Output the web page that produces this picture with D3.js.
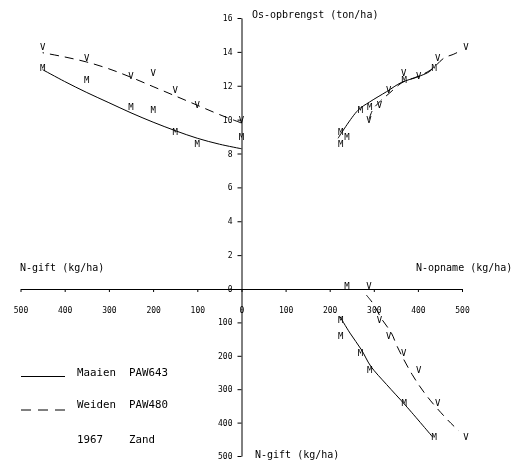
<!DOCTYPE html>
<html>
<head>
<meta charset="utf-8">
<script src="https://cdnjs.cloudflare.com/ajax/libs/d3/7.8.5/d3.min.js"></script>
<style>
  body { margin: 0; background: #fff; }
  svg { will-change: transform; }
  text { font-family: "DejaVu Sans Mono", monospace; fill: #000; }
</style>
</head>
<body>
<div id="chart"></div>
<script>
// N-gift levels (kg/ha)
var giftLevels = [0, 100, 150, 200, 250, 350, 450];

// yield (ton/ha) and N uptake (kg/ha) per N-gift level
var maaienYield = [8.8, 8.4, 9.1, 10.4, 10.6, 12.2, 12.9];
var weidenYield = [9.8, 10.7, 11.6, 12.6, 12.4, 13.5, 14.1];
var maaienUptake = [239, 225, 225, 270, 291, 369, 437];
var weidenUptake = [289, 313, 334, 368, 402, 445, 509];

// fitted curves
// N-gift vs yield
var maaienGiftCurve = [[0, 8.28], [50, 8.55], [100, 8.9], [150, 9.35], [200, 9.85], [250, 10.4], [300, 11.0], [350, 11.6], [400, 12.25], [450, 12.95]];
var weidenGiftCurve = [[0, 9.8], [50, 10.3], [100, 10.85], [150, 11.4], [200, 11.95], [250, 12.5], [300, 13.0], [350, 13.4], [400, 13.7], [450, 13.95]];
// N-opname vs yield
var maaienUptakeCurve = [[219, 8.9], [264, 10.55], [291, 11.05], [329, 11.65], [363, 12.2], [397, 12.5], [427, 12.85], [435, 13.1]];
var weidenUptakeCurve = [[289, 10.0], [298, 10.6], [315, 11.1], [335, 11.55], [365, 12.2], [400, 12.55], [430, 12.95], [460, 13.65], [480, 13.85], [492, 14.0]];
// N-opname vs N-gift
var maaienBottomCurve = [[223, 82], [246, 132], [272, 182], [293, 231], [329, 286], [373, 350], [434, 444]];
var weidenBottomCurve = [[283, 18], [298, 43], [318, 90], [340, 132], [353, 172], [387, 256], [420, 320], [466, 390], [493, 425]];

// tick values
var yieldTicks = [0, 2, 4, 6, 8, 10, 12, 14, 16];
var giftTicks = [100, 200, 300, 400, 500];
var uptakeTicks = [0, 100, 200, 300, 400, 500];

// legend entries
var legendLabels = [["Maaien", "PAW643"], ["Weiden", "PAW480"], ["1967", "Zand"]];

// svg container
var svgWidth = 520;
var svgHeight = 466;

var svg = d3.select("#chart")
  .append("svg")
  .attr("width", svgWidth)
  .attr("height", svgHeight);

// scales - all quadrants share the origin
var x0 = 241.5;
var y0 = 289;

var xLeft = d3.scaleLinear().domain([0, 500]).range([x0, 20.5]);
var xRight = d3.scaleLinear().domain([0, 500]).range([x0, 462]);
var yTop = d3.scaleLinear().domain([0, 16]).range([y0, 18]);
var yBottom = d3.scaleLinear().domain([0, 500]).range([y0, 456]);

function styleAxis(g) {
  g.attr("font-family", "DejaVu Sans Mono").attr("font-size", 8);
  g.selectAll("path, line").attr("stroke", "#000").attr("stroke-width", 1);
}

// vertical axes
svg.append("g")
  .attr("transform", `translate(${x0}, 0)`)
  .call(d3.axisLeft(yTop).tickValues(yieldTicks).tickSize(4).tickSizeOuter(0).tickPadding(5))
  .call(styleAxis);

svg.append("g")
  .attr("transform", `translate(${x0}, 0)`)
  .call(d3.axisLeft(yBottom).tickValues(giftTicks).tickSize(4).tickSizeOuter(0).tickPadding(5))
  .call(styleAxis);

// horizontal axes
svg.append("g")
  .attr("transform", `translate(0, ${y0})`)
  .call(d3.axisBottom(xLeft).tickValues(giftTicks).tickSize(3).tickSizeOuter(0).tickPadding(15))
  .call(styleAxis);

svg.append("g")
  .attr("transform", `translate(0, ${y0})`)
  .call(d3.axisBottom(xRight).tickValues(uptakeTicks).tickSize(3).tickSizeOuter(0).tickPadding(15))
  .call(styleAxis);

// curves
var lineTL = d3.line().x(d => xLeft(d[0])).y(d => yTop(d[1])).curve(d3.curveCatmullRom);
var lineTR = d3.line().x(d => xRight(d[0])).y(d => yTop(d[1])).curve(d3.curveCatmullRom);
var lineBR = d3.line().x(d => xRight(d[0])).y(d => yBottom(d[1])).curve(d3.curveCatmullRom);

function drawCurve(data, gen, dashed) {
  svg.append("path")
    .attr("d", gen(data))
    .attr("fill", "none")
    .attr("stroke", "#000")
    .attr("stroke-width", 1)
    .attr("stroke-dasharray", dashed ? "9,6" : null);
}

drawCurve(maaienGiftCurve, lineTL, false);
drawCurve(weidenGiftCurve, lineTL, true);
drawCurve(maaienUptakeCurve, lineTR, false);
drawCurve(weidenUptakeCurve, lineTR, true);
drawCurve(maaienBottomCurve, lineBR, false);
drawCurve(weidenBottomCurve, lineBR, true);

// point markers (letters)
function drawMarkers(letter, xs, ys, xScale, yScale) {
  svg.append("g")
    .selectAll("text")
    .data(giftLevels)
    .enter()
    .append("text")
    .attr("x", (d, i) => xScale(xs[i]))
    .attr("y", (d, i) => yScale(ys[i]) - 3)
    .attr("dy", "0.36em")
    .attr("text-anchor", "middle")
    .attr("font-size", 9)
    .text(letter);
}

drawMarkers("M", giftLevels, maaienYield, xLeft, yTop);
drawMarkers("V", giftLevels, weidenYield, xLeft, yTop);
drawMarkers("M", maaienUptake, maaienYield, xRight, yTop);
drawMarkers("V", weidenUptake, weidenYield, xRight, yTop);
drawMarkers("M", maaienUptake, giftLevels, xRight, yBottom);
drawMarkers("V", weidenUptake, giftLevels, xRight, yBottom);

// axis titles
svg.append("text").attr("x", 252).attr("y", 18).attr("font-size", 10).text("Os-opbrengst  (ton/ha)");
svg.append("text").attr("x", 20).attr("y", 271).attr("font-size", 10).text("N-gift  (kg/ha)");
svg.append("text").attr("x", 416).attr("y", 271).attr("font-size", 10).text("N-opname  (kg/ha)");
svg.append("text").attr("x", 255).attr("y", 458).attr("font-size", 10).text("N-gift  (kg/ha)");

// legend
var legendY = [376, 408, 443];

svg.append("line")
  .attr("x1", 21).attr("x2", 65)
  .attr("y1", legendY[0] + 0.5).attr("y2", legendY[0] + 0.5)
  .attr("stroke", "#000");

svg.append("line")
  .attr("x1", 21).attr("x2", 65)
  .attr("y1", legendY[1] + 2).attr("y2", legendY[1] + 2)
  .attr("stroke", "#000")
  .attr("stroke-dasharray", "10,7");

legendLabels.forEach(function(lab, i) {
  svg.append("text").attr("x", 77).attr("y", legendY[i]).attr("font-size", 10.8).text(lab[0]);
  svg.append("text").attr("x", 129).attr("y", legendY[i]).attr("font-size", 10.8).text(lab[1]);
});
</script>
</body>
</html>
